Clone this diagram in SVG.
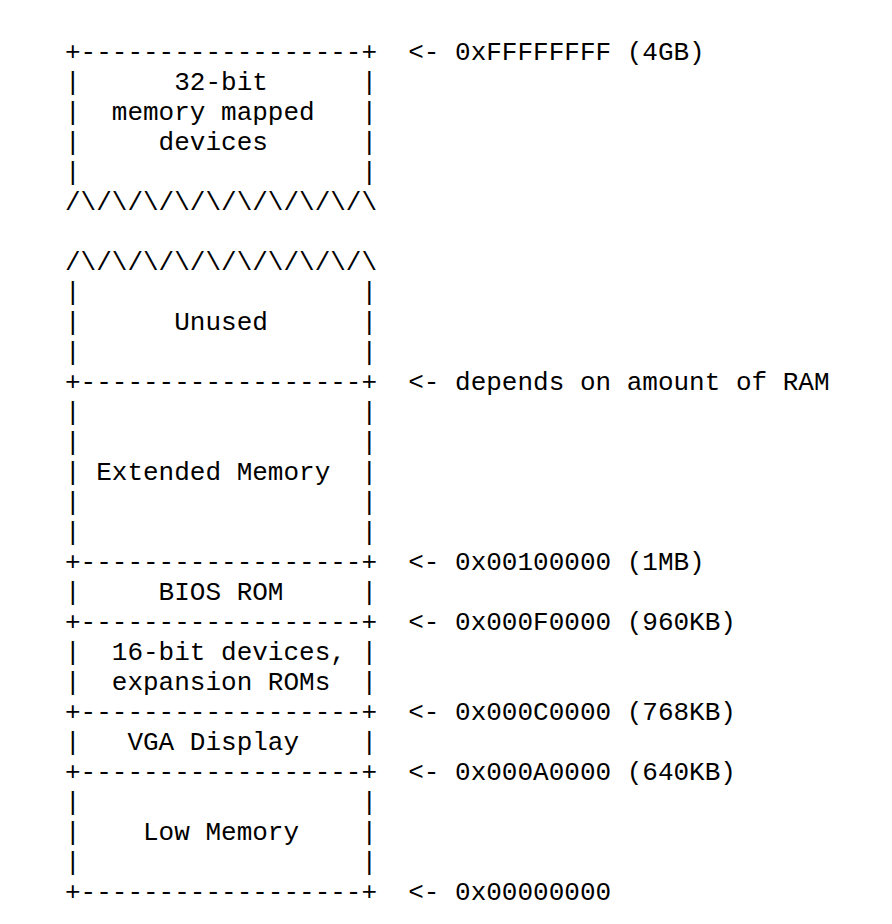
<svg xmlns="http://www.w3.org/2000/svg" width="892" height="924" viewBox="0 0 892 924">
<style>
text{font-family:"Liberation Mono","DejaVu Sans Mono",monospace;font-size:26px;fill:#000;white-space:pre}
</style>
<rect width="892" height="924" fill="#fff"/>
<g id="connectors">
<text x="65" y="60" xml:space="preserve">+------------------+  &lt;- 0xFFFFFFFF (4GB)</text>
<text x="65" y="390" xml:space="preserve">+------------------+  &lt;- depends on amount of RAM</text>
<text x="65" y="570" xml:space="preserve">+------------------+  &lt;- 0x00100000 (1MB)</text>
<text x="65" y="630" xml:space="preserve">+------------------+  &lt;- 0x000F0000 (960KB)</text>
<text x="65" y="720" xml:space="preserve">+------------------+  &lt;- 0x000C0000 (768KB)</text>
<text x="65" y="780" xml:space="preserve">+------------------+  &lt;- 0x000A0000 (640KB)</text>
<text x="65" y="900" xml:space="preserve">+------------------+  &lt;- 0x00000000</text>
</g>
<g id="mmio">
<text x="65" y="90" xml:space="preserve">|      32-bit      |</text>
<text x="65" y="120" xml:space="preserve">|  memory mapped   |</text>
<text x="65" y="150" xml:space="preserve">|     devices      |</text>
<text x="65" y="180" xml:space="preserve">|                  |</text>
<text x="65" y="210" xml:space="preserve">/\/\/\/\/\/\/\/\/\/\</text>
</g>
<g id="unused">
<text x="65" y="270" xml:space="preserve">/\/\/\/\/\/\/\/\/\/\</text>
<text x="65" y="300" xml:space="preserve">|                  |</text>
<text x="65" y="330" xml:space="preserve">|      Unused      |</text>
<text x="65" y="360" xml:space="preserve">|                  |</text>
</g>
<g id="extended">
<text x="65" y="420" xml:space="preserve">|                  |</text>
<text x="65" y="450" xml:space="preserve">|                  |</text>
<text x="65" y="480" xml:space="preserve">| Extended Memory  |</text>
<text x="65" y="510" xml:space="preserve">|                  |</text>
<text x="65" y="540" xml:space="preserve">|                  |</text>
</g>
<g id="bios">
<text x="65" y="600" xml:space="preserve">|     BIOS ROM     |</text>
</g>
<g id="devices16">
<text x="65" y="660" xml:space="preserve">|  16-bit devices, |</text>
<text x="65" y="690" xml:space="preserve">|  expansion ROMs  |</text>
</g>
<g id="vga">
<text x="65" y="750" xml:space="preserve">|   VGA Display    |</text>
</g>
<g id="low">
<text x="65" y="810" xml:space="preserve">|                  |</text>
<text x="65" y="840" xml:space="preserve">|    Low Memory    |</text>
<text x="65" y="870" xml:space="preserve">|                  |</text>
</g>
</svg>
